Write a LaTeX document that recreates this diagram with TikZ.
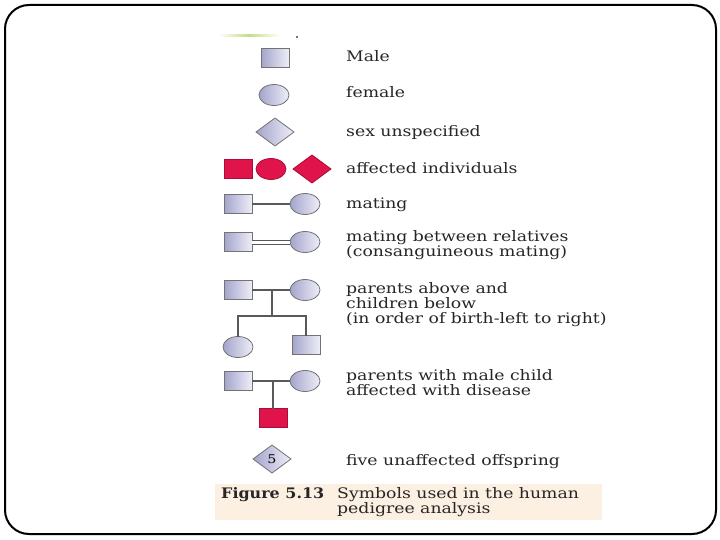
\documentclass[tikz,border=0pt]{standalone}
\usepackage{fontspec}
\setmainfont{DejaVu Serif}[FakeStretch=1.19, BoldFeatures={FakeStretch=1.1}]
\usepackage{xcolor}
\definecolor{lavdark}{HTML}{A4A4CC}
\definecolor{lavlight}{HTML}{EEEEF8}
\definecolor{affred}{HTML}{E0144A}
\definecolor{capbg}{HTML}{FCF0E2}
\definecolor{cropgreen}{HTML}{C4DC86}
\usetikzlibrary{positioning,shapes.geometric}
\tikzset{
  sym/.style   ={draw=black!55, line width=0.8pt, left color=lavdark, right color=lavlight,
                 inner sep=0pt, outer sep=0pt},
  asym/.style  ={draw=affred!75!black, line width=0.8pt, fill=affred, inner sep=0pt, outer sep=0pt},
  sq/.style    ={rectangle, minimum width=28pt, minimum height=19pt},
  ov/.style    ={ellipse, minimum width=30pt, minimum height=21pt},
  dm/.style    ={diamond, aspect=1.36, minimum width=38pt, minimum height=28pt},
  male/.style  ={sym, sq},
  female/.style={sym, ov},
  unspec/.style={sym, dm},
  amale/.style ={asym, sq},
  afemale/.style={asym, ov},
  aunspec/.style={asym, dm},
  link/.style  ={draw=black!65, line width=1.1pt},
  lbl/.style   ={anchor=base west, inner sep=0pt, align=left, text=black!85,
                 font=\fontsize{14.5}{15}\selectfont},
  captxt/.style={anchor=base west, inner sep=0pt, align=left, text=black!85,
                 font=\fontsize{14.5}{15}\selectfont},
}

\begin{document}
\begin{tikzpicture}[x=1pt, y=-1pt]
  \useasboundingbox (0,0) rectangle (720,540);
  % slide frame
  \draw[line width=2pt, rounded corners=24pt] (5,5) rectangle (716,534);
  % cropped edge at the top
  \shade[left color=white, right color=white, middle color=cropgreen] (218,35) rectangle (280,37);
  \fill[black!75] (297,37) circle (1.2pt);
  % single symbols
  \node[male]   (m) at (275,58) {};
  \node[female] (f) at (274,95) {};
  \node[unspec] (u) at (275,132) {};
  \node[lbl] (ml) at (346,62) {Male};
  \node[lbl] (fl) at (346,98) {female};
  \node[lbl] (ul) at (346,137) {sex unspecified};
  % affected
  \node[amale]   (am) at (238,169) {};
  \node[afemale] (af) at (271,169) {};
  \node[aunspec] (au) at (312,169) {};
  \node[lbl] (al) at (346,174) {affected individuals};
  % mating
  \node[male]   (p1m) at (238,204) {};
  \node[female] (p1f) at (305,204) {};
  \draw[link] (p1m) -- (p1f);
  \node[lbl] (p1l) at (346,208) {mating};
  % mating between relatives
  \node[male]   (p2m) at (238,242) {};
  \node[female] (p2f) at (305,242) {};
  \draw[link, line width=1pt, double=white, double distance=3pt] (p2m) -- (p2f);
  \node[lbl] (p2l) at (346,256) {mating between relatives\\(consanguineous mating)};
  % parents and children
  \node[male]   (p3m) at (238,290) {};
  \node[female] (p3f) at (305,290) {};
  \draw[link] (p3m) -- (p3f);
  \coordinate (p3mid) at (272,290);
  \coordinate (p3bar) at (272,316);
  \node[female] (c1) at (238,347) {};
  \node[male]   (c2) at (306,345) {};
  \draw[link] (p3mid) -- (p3bar);
  \draw[link] (c1.north) |- (p3bar) -| (c2.north);
  \node[lbl] (p3l) at (346,323) {parents above and\\children below\\(in order of birth-left to right)};
  % parents with affected son
  \node[male]   (p4m) at (238,381) {};
  \node[female] (p4f) at (305,381) {};
  \draw[link] (p4m) -- (p4f);
  \node[amale] (mc) at (273,418) {};
  \draw[link] (mc.north |- p4m) -- (mc.north);
  \node[lbl] (p4l) at (346,395) {parents with male child\\affected with disease};
  % five offspring
  \node[unspec, font=\fontsize{12}{12}\selectfont] (five) at (272,459) {5};
  \node[lbl] (fivel) at (346,465) {five unaffected offspring};
  % caption
  \node[fill=capbg, minimum width=387pt, minimum height=36pt, inner sep=0pt] (capbox) at (408.5,502) {};
  \node[captxt, font=\fontsize{14.5}{15}\selectfont\bfseries] (capfig) at (221,498) {Figure 5.13};
  \node[captxt] (captext) at (337,513) {Symbols used in the human\\pedigree analysis};
\end{tikzpicture}
\end{document}
